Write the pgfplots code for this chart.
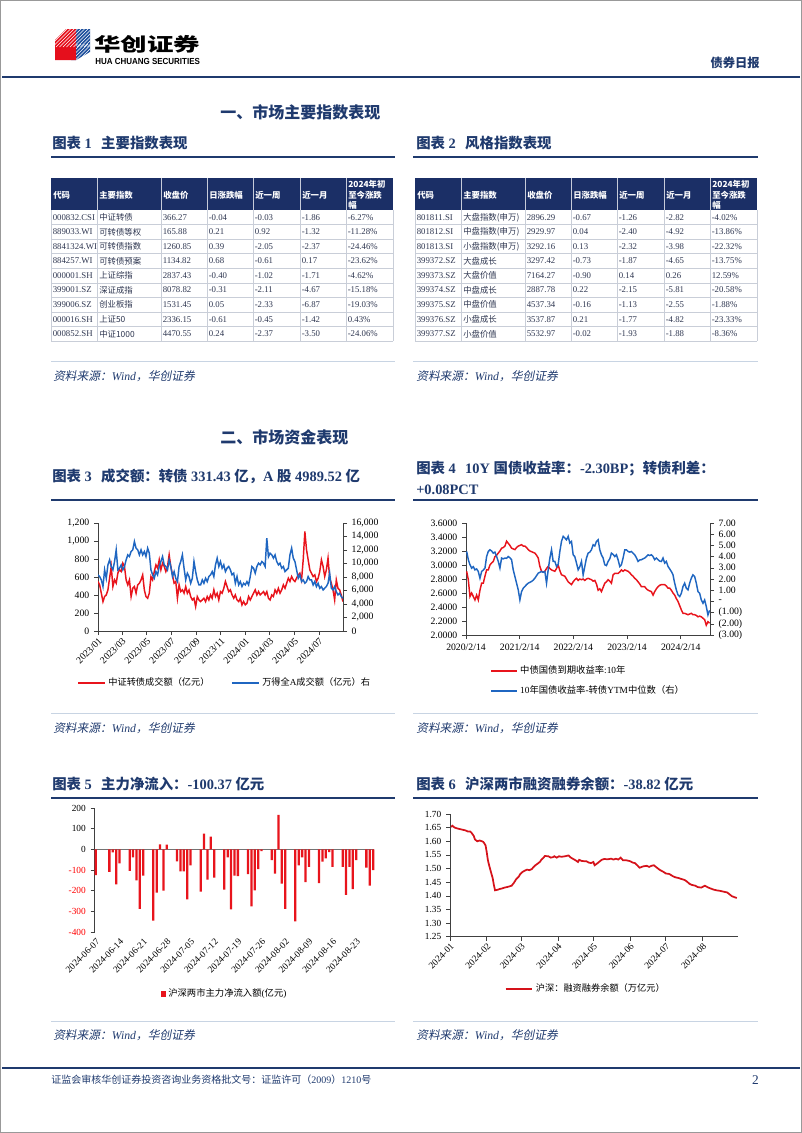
\documentclass[border=0pt]{standalone}
\usepackage{fontspec}
\setmainfont{Liberation Serif}
\newfontfamily\cjk{Noto Sans CJK SC}
\newfontfamily\cjkit{Noto Sans CJK SC}[FakeSlant=0.2]
\newfontfamily\lsans{Liberation Sans}
\usepackage{graphicx}
\usepackage{pgfplots}
\usepackage{pgfplotstable}
\pgfplotsset{compat=1.18}

\definecolor{navy}{HTML}{1F3A6E}
\definecolor{hdrnavy}{HTML}{1B2F66}
\definecolor{tabtxt}{HTML}{2E3650}
\definecolor{gridc}{HTML}{C9CED8}
\definecolor{srcline}{HTML}{C8D4E3}
\definecolor{cred}{HTML}{E8141C}
\definecolor{cblue}{HTML}{1F66C1}
\definecolor{logored}{HTML}{E50F1C}
\definecolor{logoblue}{HTML}{1D4F9C}

\pgfplotsset{
  every axis/.append style={
    scale only axis, anchor=south west,
    tick align=outside, major tick length=3pt,
    axis line style={black!75}, tick style={black!75, line width=0.4pt},
    /pgf/number format/assume math mode=true,
    legend style={draw=none, fill=none, inner sep=0pt},
  },
}

\tikzset{
  tc/.style={anchor=west, inner sep=0pt, text=tabtxt, font=\fontsize{6.6}{7}\selectfont},
  th/.style={anchor=west, inner sep=0pt, text=white, font=\bfseries\fontsize{6.3}{7}\selectfont\cjk},
}

% one table row: x0, y, code, name, close, day, week, month, ytd
\newcommand\trow[9]{%
  \node[tc] at ({#1+1.5},{#2}) {#3};
  \node[tc] at ({#1+48},{#2}) {\fontsize{6.3}{7}\selectfont\cjk #4};
  \node[tc] at ({#1+111.5},{#2}) {#5};
  \node[tc] at ({#1+157.5},{#2}) {#6};
  \node[tc] at ({#1+203.5},{#2}) {#7};
  \node[tc] at ({#1+250.5},{#2}) {#8};
  \node[tc] at ({#1+296.5},{#2}) {#9};}

\newcommand\tgrid[1]{%
  \fill[hdrnavy] (#1,178) rectangle ({#1+342},210);
  \foreach \c in {46,110,156,202,249,295}{\draw[white!75!hdrnavy, line width=0.4pt] ({#1+\c},178) -- ({#1+\c},210);}
  \foreach \i in {1,...,9}{\draw[gridc, line width=0.4pt] (#1,{210+14.56*\i}) -- ({#1+342},{210+14.56*\i});}
  \foreach \c in {0,46,110,156,202,249,295,342}{\draw[gridc, line width=0.4pt] ({#1+\c},210) -- ({#1+\c},341);}
  \node[th] at ({#1+2},195) {代码};
  \node[th] at ({#1+48},195) {主要指数};
  \node[th] at ({#1+112},195) {收盘价};
  \node[th] at ({#1+158},195) {日涨跌幅};
  \node[th] at ({#1+204},195) {近一周};
  \node[th] at ({#1+251},195) {近一月};
  \node[th] at ({#1+297},184.5) {2024年初};
  \node[th] at ({#1+297},195) {至今涨跌};
  \node[th] at ({#1+297},205.5) {幅};}

% chart 3: days since 2023-01-01; cb = convertible turnover (left), as = all-A turnover (right)
\pgfplotstableread{
d cb as
0 550 8316
4.1 513 8069
8.2 420 7574
12.3 327 6584
16.4 383 9059
20.5 400 7800
24.6 457 9801
28.7 587 10544
32.8 717 9554
36.9 494 9059
41 568 10296
45.1 531 12029
49.2 643 9059
53.3 680 9306
57.4 661 9801
61.5 754 9059
65.6 717 9554
69.7 568 10544
73.8 513 11286
77.9 568 11039
82 383 11781
86.1 475 12029
90.2 494 13266
94.3 420 12276
98.4 513 12029
102.5 531 11286
106.6 568 12029
110.7 624 11286
114.8 457 11781
118.9 383 11039
123 364 12276
127.1 420 11534
131.2 605 9059
135.3 568 8316
139.4 661 7821
143.5 735 8811
147.6 698 8316
151.7 791 9554
155.8 680 10296
159.9 754 11039
164 717 9801
168.1 661 9554
172.2 717 9059
176.3 847 10544
180.4 717 9554
184.5 624 8069
188.6 531 8811
192.7 550 7821
196.8 364 7326
200.9 513 9554
205 438 10296
209.1 457 11286
213.2 420 9306
217.3 494 7574
221.4 420 8564
225.5 457 8069
229.6 383 7079
233.7 345 7821
237.8 364 10296
241.9 271 8811
246 383 7574
250.1 345 6831
254.2 327 6831
258.3 345 7574
262.4 364 7079
266.5 327 7821
270.6 383 7326
274.7 345 8069
278.8 401 8316
282.9 364 8811
287 457 8069
291.1 383 9801
295.2 420 10791
299.3 345 9554
303.4 438 10296
307.5 420 9306
311.6 475 9801
315.7 550 8811
319.8 494 9306
323.9 438 9554
328 457 9059
332.1 401 8316
336.2 364 8564
340.3 401 7079
344.4 345 8069
348.5 327 6831
352.6 364 7326
356.7 290 6584
360.8 327 7079
364.9 290 6831
369 308 7326
373.1 383 6831
377.2 345 8069
381.3 383 9554
385.4 420 9306
389.5 457 8564
393.6 401 9554
397.7 438 10049
401.8 401 9801
405.9 420 10296
410 438 10049
414.1 401 9554
418.2 438 13761
422.3 364 11000
426.4 345 11534
430.5 401 11286
434.6 383 10791
438.7 457 11286
442.8 420 10296
446.9 475 9801
451 420 10049
455.1 457 9306
459.2 513 9554
463.3 475 8811
467.4 531 9059
471.5 587 9306
475.6 550 11286
479.7 605 12276
483.8 568 10791
487.9 550 10296
492 587 9059
496.1 624 7821
500.2 643 8316
504.3 568 7326
508.4 791 7574
512.5 1107 7079
516.6 903 7326
520.7 791 8069
524.8 680 7574
528.9 643 7574
533 605 6831
537.1 624 7326
541.2 550 6584
545.3 587 7079
549.4 661 6336
553.5 791 6584
557.6 717 6089
561.7 605 6336
565.8 680 6584
569.9 810 7079
574 587 8564
578.1 531 6336
582.2 457 6089
586.3 345 6584
590.4 568 5841
594.5 475 5346
598.6 457 5594
602.7 401 5099
606.8 327 4851
}\tabturn

% chart 4: years since 2020-02-14; r = 10y CGB yield (left), s = spread (right)
\pgfplotstableread{
t r s
0.012 2.91 4.46
0.043 2.79 3.72
0.074 2.55 3.27
0.105 2.60 2.97
0.136 2.55 3.10
0.167 2.50 2.82
0.198 2.57 2.90
0.229 2.50 2.67
0.260 2.64 2.07
0.291 2.74 2.67
0.322 2.74 2.80
0.353 2.84 2.97
0.384 2.93 4.01
0.415 2.93 4.46
0.446 3.00 4.61
0.477 3.03 4.50
0.508 3.05 4.31
0.539 3.12 4.40
0.570 3.14 4.01
0.601 3.17 3.57
0.632 3.20 2.97
0.663 3.24 3.87
0.694 3.25 3.80
0.725 3.27 3.87
0.756 3.34 3.85
0.787 3.31 4.01
0.818 3.28 3.90
0.849 3.24 3.72
0.880 3.23 2.82
0.911 3.22 2.22
0.942 3.25 1.63
0.973 3.27 1.03
1.004 3.28 0.13
1.035 3.29 0.88
1.066 3.27 1.18
1.097 3.27 1.33
1.128 3.25 1.50
1.159 3.22 1.63
1.190 3.20 1.70
1.221 3.19 1.78
1.252 3.18 1.90
1.283 3.17 2.07
1.314 3.14 2.30
1.345 3.10 2.52
1.376 2.98 2.60
1.407 2.91 2.67
1.438 2.90 2.60
1.469 2.91 2.67
1.500 2.95 1.63
1.531 2.98 2.82
1.562 2.95 3.87
1.593 2.93 4.61
1.624 2.92 3.57
1.655 2.91 3.57
1.686 2.95 3.12
1.717 3.00 3.30
1.748 2.92 4.46
1.779 2.86 5.36
1.810 2.85 5.81
1.841 2.84 5.66
1.872 2.80 5.50
1.903 2.76 5.81
1.934 2.74 5.21
1.965 2.72 5.36
1.996 2.76 4.16
2.027 2.79 4.00
2.058 2.81 3.42
2.089 2.78 2.82
2.120 2.80 3.10
2.151 2.79 3.57
2.182 2.80 2.37
2.213 2.78 3.12
2.244 2.80 3.87
2.275 2.81 4.31
2.306 2.80 4.40
2.337 2.79 4.61
2.368 2.77 5.06
2.399 2.78 4.95
2.430 2.73 5.36
2.461 2.64 5.51
2.492 2.66 4.61
2.523 2.62 4.16
2.554 2.68 3.87
2.585 2.74 3.27
2.616 2.76 3.20
2.647 2.79 3.57
2.678 2.77 3.80
2.709 2.74 4.31
2.740 2.86 4.20
2.771 2.88 4.01
2.802 2.88 4.16
2.833 2.88 3.72
2.864 2.90 3.12
2.895 2.93 3.27
2.926 2.91 3.87
2.957 2.93 4.61
2.988 2.92 4.61
3.019 2.91 4.46
3.050 2.89 4.40
3.081 2.86 4.46
3.112 2.84 4.30
3.143 2.81 4.16
3.174 2.79 3.90
3.205 2.76 3.57
3.236 2.73 3.70
3.267 2.69 3.72
3.298 2.69 3.80
3.329 2.69 3.87
3.360 2.66 4.00
3.391 2.64 4.16
3.422 2.63 4.10
3.453 2.62 4.16
3.484 2.57 4.01
3.515 2.62 3.72
3.546 2.66 3.87
3.577 2.69 3.72
3.608 2.71 3.60
3.639 2.72 3.57
3.670 2.72 3.87
3.701 2.72 3.42
3.732 2.70 3.57
3.763 2.67 3.12
3.794 2.67 2.90
3.825 2.64 2.67
3.856 2.60 2.37
3.887 2.57 1.63
3.918 2.52 1.03
3.949 2.48 0.58
3.980 2.42 0.43
4.011 2.36 0.73
4.042 2.31 1.33
4.073 2.31 1.63
4.104 2.30 1.18
4.135 2.29 1.03
4.166 2.30 1.63
4.197 2.31 2.07
4.228 2.29 2.37
4.259 2.29 2.22
4.290 2.28 1.63
4.321 2.26 0.88
4.352 2.27 0.73
4.383 2.26 0.13
4.414 2.24 -0.16
4.445 2.22 0.13
4.476 2.14 -0.46
4.507 2.19 -1.21
4.538 2.17 -0.80
}\tabyield

% chart 5: days since 2024-06-07, net main-force inflow
\pgfplotstableread{
d v
0 -125
4 -109
5 -15
6 -169
7 -68
10 -104
11 -39
12 -150
13 -288
14 -127
17 -345
18 -210
19 24
20 -200
21 23
24 -58
25 -107
26 -106
27 -242
28 -78
31 -205
32 76
33 -146
34 62
35 -137
38 -195
39 -39
40 -290
41 -127
42 -130
45 -120
46 -276
47 -198
48 -96
49 -8
52 -52
53 -117
54 167
55 -166
56 -288
59 -348
60 -78
61 -39
62 -159
63 -85
66 -163
67 -59
68 -44
69 -13
70 -85
73 -85
74 -220
75 -85
76 -193
77 -52
80 -89
81 -176
82 -100.37
}\tabflow

% chart 6: days since 2024-01-01, margin balance (trillion yuan)
\pgfplotstableread{
d v
1 1.652
2 1.657
4 1.650
7 1.646
10 1.643
13 1.640
15 1.636
17 1.636
18 1.632
20 1.620
21 1.607
23 1.600
25 1.603
27 1.600
28 1.598
29 1.592
30 1.585
31 1.560
32 1.530
33 1.512
35 1.480
36 1.465
37 1.440
38 1.420
40 1.422
42 1.425
44 1.427
46 1.430
49 1.433
52 1.437
54 1.448
55 1.455
56 1.462
58 1.470
59 1.478
61 1.487
63 1.492
65 1.496
67 1.494
69 1.498
70 1.503
72 1.512
74 1.518
76 1.525
77 1.532
79 1.540
80 1.546
83 1.545
85 1.540
87 1.542
88 1.545
90 1.540
92 1.545
94 1.543
97 1.545
100 1.548
102 1.540
104 1.535
106 1.530
108 1.524
109 1.532
111 1.528
113 1.527
115 1.527
117 1.522
119 1.520
121 1.524
122 1.512
124 1.518
126 1.525
128 1.532
130 1.535
133 1.534
136 1.536
138 1.533
140 1.536
142 1.533
144 1.540
146 1.530
149 1.530
152 1.527
154 1.522
156 1.520
158 1.512
160 1.503
163 1.508
166 1.510
168 1.506
170 1.510
172 1.512
174 1.505
177 1.495
180 1.488
182 1.482
185 1.480
188 1.472
190 1.468
193 1.465
195 1.462
198 1.458
200 1.452
202 1.444
204 1.440
207 1.437
209 1.432
212 1.430
215 1.437
218 1.430
221 1.425
223 1.422
225 1.420
228 1.418
231 1.415
234 1.412
236 1.405
238 1.398
240 1.395
242 1.392
}\tabmargin

\begin{document}
\begin{tikzpicture}
\begin{scope}[x=0.75pt,y=-0.75pt]
% page frame
\draw[black!40, line width=0.6pt] (0.5,0.5) rectangle (801.5,1132.5);

% logo
\fill[logoblue] (71,29) -- (90,29) -- (90,52) -- (76,60) -- (71,60) -- cycle;
\fill[logored] (55,40) -- (66,29) -- (76,29) -- (76,60) -- (55,60) -- cycle;
\begin{scope}
  \clip (55,29) rectangle (90,47);
  \foreach \i in {-20,-16.5,...,40}{\draw[white, line width=0.5pt] ({55+\i},47) -- ({73+\i},29);}
\end{scope}
\begin{scope}
  \clip (76,44) rectangle (90,60);
  \foreach \i in {-20,-16.5,...,40}{\draw[white, line width=0.5pt] ({55+\i},62) -- ({73+\i},44);}
\end{scope}
\node[anchor=west, inner sep=0pt] at (94,44) {\scalebox{1.42}[1]{\fontsize{14}{14}\selectfont\cjk\bfseries 华创证券}};
\node[anchor=west, inner sep=0pt] at (95,61.5) {\resizebox{78.5pt}{4.6pt}{\lsans\bfseries HUA CHUANG SECURITIES}};
\node[anchor=east, inner sep=0pt, text=navy, font=\bfseries\fontsize{9.2}{10}\selectfont\cjk] at (760,63) {债券日报};
\draw[navy, line width=1.6pt] (2,77) -- (800,77);

% section 1
\node[anchor=west, inner sep=0pt, text=navy, font=\bfseries\fontsize{12}{13}\selectfont\cjk] at (220,112) {一、市场主要指数表现};
\node[anchor=west, inner sep=0pt, text=navy, font=\bfseries\fontsize{10.8}{12}\selectfont] at (52,143) {{\cjk 图表} 1\hspace{7pt}{\cjk 主要指数表现}};
\node[anchor=west, inner sep=0pt, text=navy, font=\bfseries\fontsize{10.8}{12}\selectfont] at (416,143) {{\cjk 图表} 2\hspace{7pt}{\cjk 风格指数表现}};
\draw[navy, line width=1.1pt] (51,157) -- (395,157);
\draw[navy, line width=1.1pt] (413,157) -- (758,157);

% table 1
\tgrid{51}
\trow{51}{217.3}{000832.CSI}{中证转债}{366.27}{-0.04}{-0.03}{-1.86}{-6.27\%}
\trow{51}{231.9}{889033.WI}{可转债等权}{165.88}{0.21}{0.92}{-1.32}{-11.28\%}
\trow{51}{246.4}{8841324.WI}{可转债指数}{1260.85}{0.39}{-2.05}{-2.37}{-24.46\%}
\trow{51}{261.0}{884257.WI}{可转债预案}{1134.82}{0.68}{-0.61}{0.17}{-23.62\%}
\trow{51}{275.5}{000001.SH}{上证综指}{2837.43}{-0.40}{-1.02}{-1.71}{-4.62\%}
\trow{51}{290.1}{399001.SZ}{深证成指}{8078.82}{-0.31}{-2.11}{-4.67}{-15.18\%}
\trow{51}{304.7}{399006.SZ}{创业板指}{1531.45}{0.05}{-2.33}{-6.87}{-19.03\%}
\trow{51}{319.2}{000016.SH}{上证50}{2336.15}{-0.61}{-0.45}{-1.42}{0.43\%}
\trow{51}{333.8}{000852.SH}{中证1000}{4470.55}{0.24}{-2.37}{-3.50}{-24.06\%}

% table 2
\tgrid{415}
\trow{415}{217.3}{801811.SI}{大盘指数(申万)}{2896.29}{-0.67}{-1.26}{-2.82}{-4.02\%}
\trow{415}{231.9}{801812.SI}{中盘指数(申万)}{2929.97}{0.04}{-2.40}{-4.92}{-13.86\%}
\trow{415}{246.4}{801813.SI}{小盘指数(申万)}{3292.16}{0.13}{-2.32}{-3.98}{-22.32\%}
\trow{415}{261.0}{399372.SZ}{大盘成长}{3297.42}{-0.73}{-1.87}{-4.65}{-13.75\%}
\trow{415}{275.5}{399373.SZ}{大盘价值}{7164.27}{-0.90}{0.14}{0.26}{12.59\%}
\trow{415}{290.1}{399374.SZ}{中盘成长}{2887.78}{0.22}{-2.15}{-5.81}{-20.58\%}
\trow{415}{304.7}{399375.SZ}{中盘价值}{4537.34}{-0.16}{-1.13}{-2.55}{-1.88\%}
\trow{415}{319.2}{399376.SZ}{小盘成长}{3537.87}{0.21}{-1.77}{-4.82}{-23.33\%}
\trow{415}{333.8}{399377.SZ}{小盘价值}{5532.97}{-0.02}{-1.93}{-1.88}{-8.36\%}

% sources row 1
\draw[srcline, line width=0.5pt] (51,361) -- (395,361);
\draw[srcline, line width=0.5pt] (413,361) -- (758,361);
\node[anchor=west, inner sep=0pt, text=navy, font=\fontsize{8.8}{10}\selectfont] at (53,376) {{\cjkit 资料来源：}\textit{Wind}{\cjkit ，华创证券}};
\node[anchor=west, inner sep=0pt, text=navy, font=\fontsize{8.8}{10}\selectfont] at (416,376) {{\cjkit 资料来源：}\textit{Wind}{\cjkit ，华创证券}};

% section 2
\node[anchor=west, inner sep=0pt, text=navy, font=\bfseries\fontsize{12}{13}\selectfont\cjk] at (220,437) {二、市场资金表现};
\node[anchor=west, inner sep=0pt, text=navy, font=\bfseries\fontsize{10.8}{12}\selectfont] at (52,476) {{\cjk 图表} 3\hspace{7pt}{\cjk 成交额：转债} 331.43 {\cjk 亿，}A {\cjk 股} 4989.52 {\cjk 亿}};
\node[anchor=west, inner sep=0pt, text=navy, font=\bfseries\fontsize{10.8}{12}\selectfont] at (416,469) {{\cjk 图表} 4\hspace{7pt}10Y {\cjk 国债收益率：}-2.30BP{\cjk ；转债利差：}};
\node[anchor=west, inner sep=0pt, text=navy, font=\bfseries\fontsize{10.8}{12}\selectfont] at (416,490) {+0.08PCT};
\draw[navy, line width=1.1pt] (51,500) -- (395,500);
\draw[navy, line width=1.1pt] (413,500) -- (758,500);

% sources row 2
\draw[srcline, line width=0.5pt] (51,713) -- (395,713);
\draw[srcline, line width=0.5pt] (413,713) -- (758,713);
\node[anchor=west, inner sep=0pt, text=navy, font=\fontsize{8.8}{10}\selectfont] at (53,728) {{\cjkit 资料来源：}\textit{Wind}{\cjkit ，华创证券}};
\node[anchor=west, inner sep=0pt, text=navy, font=\fontsize{8.8}{10}\selectfont] at (416,728) {{\cjkit 资料来源：}\textit{Wind}{\cjkit ，华创证券}};

% row 3 titles
\node[anchor=west, inner sep=0pt, text=navy, font=\bfseries\fontsize{10.8}{12}\selectfont] at (52,784) {{\cjk 图表} 5\hspace{7pt}{\cjk 主力净流入：}-100.37 {\cjk 亿元}};
\node[anchor=west, inner sep=0pt, text=navy, font=\bfseries\fontsize{10.8}{12}\selectfont] at (416,784) {{\cjk 图表} 6\hspace{7pt}{\cjk 沪深两市融资融券余额：}-38.82 {\cjk 亿元}};
\draw[navy, line width=1.1pt] (51,798) -- (395,798);
\draw[navy, line width=1.1pt] (413,798) -- (758,798);

% sources row 3
\draw[srcline, line width=0.5pt] (51,1021) -- (395,1021);
\draw[srcline, line width=0.5pt] (413,1021) -- (758,1021);
\node[anchor=west, inner sep=0pt, text=navy, font=\fontsize{8.8}{10}\selectfont] at (53,1035) {{\cjkit 资料来源：}\textit{Wind}{\cjkit ，华创证券}};
\node[anchor=west, inner sep=0pt, text=navy, font=\fontsize{8.8}{10}\selectfont] at (416,1035) {{\cjkit 资料来源：}\textit{Wind}{\cjkit ，华创证券}};

% footer
\draw[navy, line width=1.6pt] (2,1068) -- (800,1068);
\node[anchor=west, inner sep=0pt, text=navy, font=\fontsize{7.5}{9}\selectfont] at (51,1080) {{\cjk 证监会审核华创证券投资咨询业务资格批文号：证监许可（}2009{\cjk ）}1210{\cjk 号}};
\node[anchor=east, inner sep=0pt, text=navy, font=\fontsize{10}{11}\selectfont] at (759,1080) {2};
\end{scope}

% ---------- chart 3 ----------
\begin{axis}[
  at={(73.5pt,-473.25pt)}, width=183.75pt, height=81pt,
  xmin=0, xmax=607, ymin=0, ymax=1200,
  axis x line*=bottom, axis y line*=left,
  xtick={0,59,120,181,243,304,365,425,486,547},
  xticklabels={2023/01,2023/03,2023/05,2023/07,2023/09,2023/11,2024/01,2024/03,2024/05,2024/07},
  xticklabel style={rotate=45, anchor=north east, inner sep=1pt},
  ytick={0,200,...,1200},
  /pgf/number format/1000 sep={,},
  tick label style={font=\fontsize{7.3}{8}\selectfont},
  legend style={at={(0.518,-0.48)}, anchor=center, legend columns=2,
    font=\fontsize{6.9}{8}\selectfont, /tikz/every even column/.append style={column sep=14pt}},
  legend image code/.code={\draw[#1, line width=1.5pt] (0pt,0pt) -- (20pt,0pt);},
]
\addplot[cred, line width=1.1pt] table[x=d, y=cb] {\tabturn};
\addlegendentry{{\cjk 中证转债成交额（亿元）}}
\addlegendimage{cblue}
\addlegendentry{{\cjk 万得全}A{\cjk 成交额（亿元）右}}
\end{axis}
\begin{axis}[
  at={(73.5pt,-473.25pt)}, width=183.75pt, height=81pt,
  xmin=0, xmax=607, ymin=0, ymax=16000,
  axis y line*=right, axis x line=none,
  ytick={0,2000,...,16000}, scaled y ticks=false,
  /pgf/number format/1000 sep={,},
  tick label style={font=\fontsize{7.3}{8}\selectfont},
]
\addplot[cblue, line width=1.1pt] table[x=d, y=as] {\tabturn};
\end{axis}

% ---------- chart 4 ----------
\begin{axis}[
  at={(349.5pt,-476.25pt)}, width=183pt, height=84pt,
  xmin=0, xmax=4.545, ymin=2, ymax=3.6,
  axis x line*=bottom, axis y line*=left,
  xtick={0,1,2,3,4},
  xticklabels={2020/2/14,2021/2/14,2022/2/14,2023/2/14,2024/2/14},
  ytick={2,2.2,...,3.61},
  yticklabel style={/pgf/number format/.cd, fixed, fixed zerofill, precision=4},
  tick label style={font=\fontsize{7.3}{8}\selectfont},
  legend style={at={(0.098,-0.25)}, anchor=north west, legend columns=1,
    font=\fontsize{7}{8}\selectfont, legend cell align=left, row sep=3.5pt},
  legend image code/.code={\draw[#1, line width=1.5pt] (0pt,0pt) -- (19pt,0pt);},
]
\addplot[cred, line width=1.1pt] table[x=t, y=r] {\tabyield};
\addlegendentry{{\cjk 中债国债到期收益率}:10{\cjk 年}}
\addlegendimage{cblue}
\addlegendentry{10{\cjk 年国债收益率}-{\cjk 转债}YTM{\cjk 中位数（右）}}
\end{axis}
\begin{axis}[
  at={(349.5pt,-476.25pt)}, width=183pt, height=84pt,
  xmin=0, xmax=4.545, ymin=-3, ymax=7,
  axis y line*=right, axis x line=none,
  ytick={-3,-2,...,7},
  yticklabels={(3.00),(2.00),(1.00),-,1.00,2.00,3.00,4.00,5.00,6.00,7.00},
  tick label style={font=\fontsize{7.3}{8}\selectfont},
]
\addplot[cblue, line width=1.1pt] table[x=t, y=s] {\tabyield};
\end{axis}

% ---------- chart 5 ----------
\begin{axis}[
  at={(70.875pt,-699pt)}, width=210pt, height=93pt,
  xmin=-0.4, xmax=82.4, ymin=-400, ymax=200,
  axis y line*=left, axis x line*=bottom,
  x axis line style={draw=none}, xtick style={draw=none},
  xtick={0,7,...,77},
  xticklabels={2024-06-07,2024-06-14,2024-06-21,2024-06-28,2024-07-05,2024-07-12,2024-07-19,2024-07-26,2024-08-02,2024-08-09,2024-08-16,2024-08-23},
  xticklabel style={rotate=45, anchor=north east, inner sep=1pt},
  ytick={-400,-300,...,200},
  yticklabels={\textcolor{red}{-400},\textcolor{red}{-300},\textcolor{red}{-200},\textcolor{red}{-100},0,100,200},
  extra y ticks={0}, extra y tick labels={},
  extra y tick style={grid=major, major grid style={black!55, line width=0.5pt}, tick style={draw=none}},
  tick label style={font=\fontsize{7}{8}\selectfont},
  legend style={at={(0.466,-0.5)}, anchor=center, font=\fontsize{7}{8}\selectfont},
  legend image code/.code={\fill[cred] (0pt,-2.3pt) rectangle (3.6pt,2.3pt);},
]
\addplot[ybar, bar width=1.7pt, fill=cred, draw=none] table[x=d, y=v] {\tabflow};
\addlegendentry{{\cjk 沪深两市主力净流入额}({\cjk 亿元})}
\end{axis}

% ---------- chart 6 ----------
\begin{axis}[
  at={(337.5pt,-702.5pt)}, width=216pt, height=92pt,
  xmin=0, xmax=243, ymin=1.25, ymax=1.70,
  axis x line*=bottom, axis y line*=left,
  xtick={0,31,60,91,121,152,182,213},
  xticklabels={2024-01,2024-02,2024-03,2024-04,2024-05,2024-06,2024-07,2024-08},
  xticklabel style={rotate=45, anchor=north east, inner sep=1pt},
  ytick={1.25,1.3,...,1.71},
  yticklabel style={/pgf/number format/.cd, fixed, fixed zerofill, precision=2},
  tick label style={font=\fontsize{7}{8}\selectfont},
  legend style={at={(0.472,-0.426)}, anchor=center, font=\fontsize{6.9}{8}\selectfont},
  legend image code/.code={\draw[#1, line width=1.6pt] (0pt,0pt) -- (20pt,0pt);},
]
\addplot[cred!92!black, line width=1.3pt] table[x=d, y=v] {\tabmargin};
\addlegendentry{{\cjk 沪深：融资融券余额（万亿元）}}
\end{axis}

\pgfresetboundingbox
\path (0,0) rectangle (601.5pt,-849.75pt);
\end{tikzpicture}
\end{document}
